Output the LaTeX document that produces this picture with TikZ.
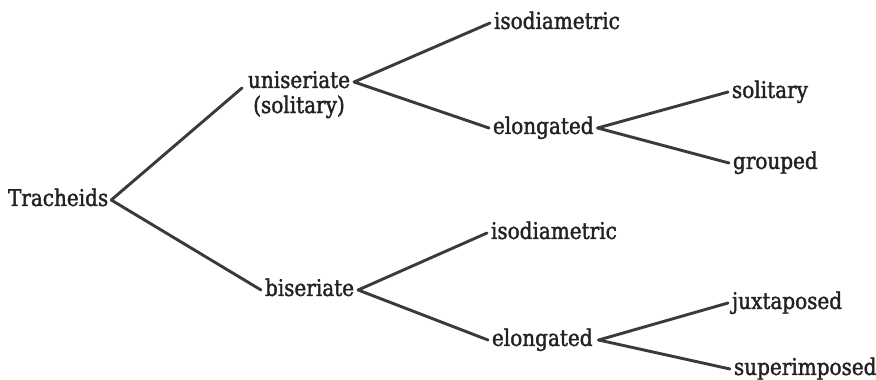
\documentclass[tikz,border=0pt]{standalone}
\usepackage{fontspec}
\setmainfont{DejaVu Serif}[FakeStretch=0.87,FakeBold=1.6]
\definecolor{ink}{HTML}{222222}
\definecolor{branch}{HTML}{3A3A3A}
\begin{document}
\begin{tikzpicture}[x=1pt,y=-1pt,
  term/.style={anchor=west,inner xsep=4pt,inner ysep=0pt,outer sep=0pt,
    text=ink,font=\fontsize{23}{25}\selectfont,
    text height=16.5pt,text depth=4.6pt},
  branch/.style={draw=branch,line width=2.9pt,line cap=round}]
  \useasboundingbox[fill=white] (0,0) rectangle (876,380);

  % root
  \node[term,inner xsep=3pt] (T) at (5,200) {Tracheids};

  % first level
  \node[term] (uni) at (244,82) {uniseriate};
  \node[term,anchor=north] (unisol) at ([yshift=-4pt]uni.south) {(solitary)};
  \node[term] (bis) at (261,290) {biseriate};

  % second level
  \node[term] (isoA) at (490,23) {isodiametric};
  \node[term] (eloA) at (489,128) {elongated};
  \node[term] (isoB) at (487,233) {isodiametric};
  \node[term] (eloB) at (488,340) {elongated};

  % third level
  \node[term] (sol) at (728,92) {solitary};
  \node[term] (grp) at (729,163) {grouped};
  \node[term] (jux) at (728,303) {juxtaposed};
  \node[term] (sup) at (730,369) {superimposed};

  % branches
  \draw[branch] (T.east) -- ([xshift=-2pt,yshift=-6pt]uni.west);
  \draw[branch] (T.east) -- (bis.west);
  \draw[branch] (uni.east) -- (isoA.west);
  \draw[branch] (uni.east) -- (eloA.west);
  \draw[branch] (bis.east) -- (isoB.west);
  \draw[branch] (bis.east) -- (eloB.west);
  \draw[branch] (eloA.east) -- (sol.west);
  \draw[branch] (eloA.east) -- (grp.west);
  \draw[branch] ([xshift=2pt]eloB.east) -- (jux.west);
  \draw[branch] ([xshift=2pt]eloB.east) -- (sup.west);
\end{tikzpicture}
\end{document}
